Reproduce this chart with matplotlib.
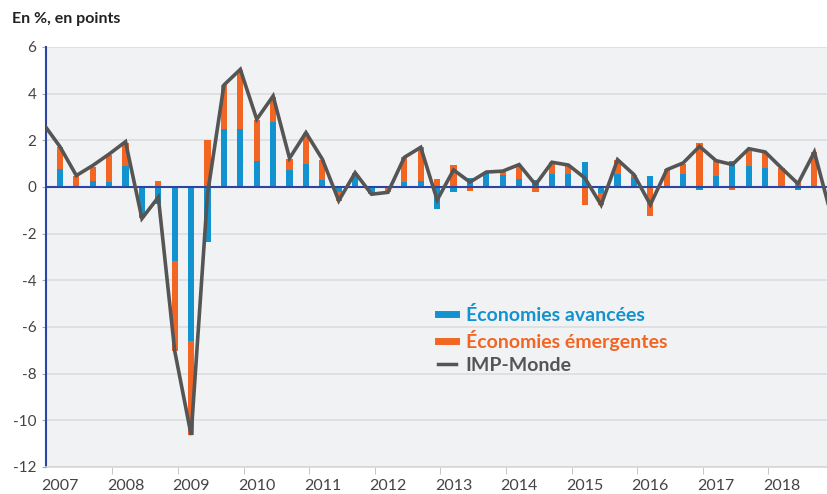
import numpy as np
import matplotlib
matplotlib.use("Agg")
import matplotlib.pyplot as plt
from matplotlib.lines import Line2D

plt.rcParams['font.family'] = ['Lato', 'DejaVu Sans']

# contributions trimestrielles, 2007T1 -> 2018T4
years = list(range(2007, 2019))
adv = [0.76, 0.03, 0.27, 0.23, 0.90, -1.35, -0.73, -3.17, -6.60, -2.34,
       2.47, 2.49, 1.11, 2.80, 0.73, 1.00, 0.31, -0.20, 0.60, -0.27,
       0.00, 0.23, 0.24, -0.93, -0.20, 0.40, 0.64, 0.50, 0.34, 0.30,
       0.57, 0.57, 1.07, -0.26, 0.57, 0.43, 0.47, 0.05, 0.57, -0.11,
       0.46, 1.10, 0.91, 0.81, 0.02, -0.11, 0.05, -0.30]
emg = [0.97, 0.46, 0.60, 1.15, 1.00, 0.00, 0.27, -3.86, -4.03, 2.01,
       1.90, 2.52, 1.75, 1.05, 0.45, 1.32, 0.86, -0.39, 0.02, -0.03,
       -0.20, 1.04, 1.46, 0.36, 0.93, -0.17, 0.02, 0.20, 0.60, -0.22,
       0.49, 0.37, -0.77, -0.51, 0.60, 0.10, -1.23, 0.70, 0.42, 1.89,
       0.67, -0.14, 0.73, 0.69, 0.80, 0.25, 1.45, -0.85]
# IMP-Monde, 2006T4 -> 2018T4
world = [2.70, 1.73, 0.49, 0.92, 1.41, 1.94, -1.35, -0.44, -7.03, -10.63,
         -0.30, 4.37, 5.04, 2.90, 3.90, 1.23, 2.33, 1.19, -0.59, 0.61,
         -0.31, -0.23, 1.27, 1.70, -0.56, 0.73, 0.21, 0.64, 0.68, 0.96,
         0.10, 1.06, 0.94, 0.39, -0.77, 1.17, 0.53, -0.76, 0.74, 1.03,
         1.74, 1.13, 0.96, 1.64, 1.50, 0.81, 0.14, 1.50, -1.15]

blue = '#1293CF'
orange = '#F26522'
grey = '#555555'
navy = '#2A45A6'

adv_a = np.array(adv)
emg_a = np.array(emg)
x = np.arange(len(adv))
x_line = np.arange(-1, len(adv))
bottom_emg = np.where(np.sign(adv_a) == np.sign(emg_a), adv_a, 0)

fig = plt.figure(figsize=(8.27, 4.94), dpi=100)
ax = fig.add_axes([0.0556, 0.0547, 0.9444, 0.8502])
ax.set_facecolor('#F1F2F4')

for v in range(-12, 7, 2):
    if v != 0:
        ax.axhline(v, color='#DCDDE0', lw=1.2, zorder=0)

ax.bar(x, adv_a, width=0.38, color=blue, zorder=2)
ax.bar(x, emg_a, width=0.38, bottom=bottom_emg, color=orange, zorder=2)
ax.axhline(0, color=navy, lw=1.5, zorder=3)
ax.plot(x_line, world, color=grey, lw=2.6, zorder=4, solid_joinstyle='miter')

ax.set_xlim(-0.85, 46.77)
ax.set_ylim(-12, 6)
ax.set_yticks(range(-12, 7, 2))
ax.set_yticklabels([str(v) for v in range(-12, 7, 2)])
ax.tick_params(axis='y', length=3, color='#AAAAAA', labelsize=11, labelcolor='#444444', pad=4)

ax.set_xticks([4 * i for i in range(len(years))])
ax.set_xticklabels([str(y) for y in years])
ax.set_xticks([3.2 + 4 * i for i in range(len(years) - 1)], minor=True)
ax.tick_params(axis='x', which='major', length=0, labelsize=11.5, labelcolor='#444444', pad=9)
ax.tick_params(axis='x', which='minor', length=5, color='#BBBBBB', direction='out')

for s in ['top', 'right']:
    ax.spines[s].set_visible(False)
ax.spines['left'].set_color(navy)
ax.spines['left'].set_linewidth(1.5)
ax.spines['bottom'].set_color('#D5D6D9')
ax.spines['bottom'].set_linewidth(1.2)

fig.text(0.015, 0.962, 'En %, en points', fontsize=11.5, fontweight='bold', color='#222222', va='center')

handles = [Line2D([0], [0], color=blue, lw=5),
           Line2D([0], [0], color=orange, lw=5),
           Line2D([0], [0], color=grey, lw=2.5)]
labels = ['Économies avancées', 'Économies émergentes', 'IMP-Monde']
leg = ax.legend(handles, labels, loc='upper left', bbox_to_anchor=(0.48, 0.425),
                frameon=False, handlelength=0.9, handletextpad=0.5, labelspacing=0.3,
                prop={'size': 14, 'weight': 'bold'})
for t, c in zip(leg.get_texts(), [blue, orange, grey]):
    t.set_color(c)

fig.savefig('out.png', dpi=100)
